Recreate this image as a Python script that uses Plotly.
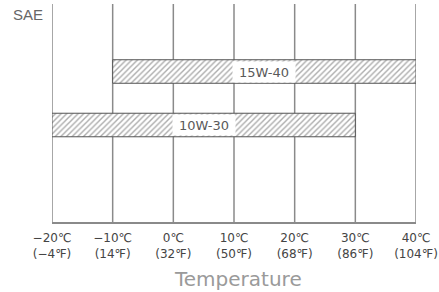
import plotly.graph_objects as go

grades = ["10W-30", "15W-40"]
low_c = [-20, -10]
high_c = [30, 40]
tick_c = [-20, -10, 0, 10, 20, 30, 40]
tick_labels = ["−20℃<br>(−4℉)", "−10℃<br>(14℉)", "0℃<br>(32℉)", "10℃<br>(50℉)",
               "20℃<br>(68℉)", "30℃<br>(86℉)", "40℃<br>(104℉)"]

line_col = "#8a8a8a"
dark = "#555555"

fig = go.Figure()
fig.add_trace(go.Bar(
    y=grades,
    x=[h - l for l, h in zip(low_c, high_c)],
    base=low_c,
    orientation="h",
    width=0.44,
    marker=dict(
        color="white",
        line=dict(color=dark, width=1),
        pattern=dict(shape="/", fgcolor="#5a5a5a", bgcolor="white", size=4, solidity=0.35),
    ),
    showlegend=False,
    hoverinfo="skip",
))

for t in tick_c:
    fig.add_shape(type="line", xref="x", yref="paper", x0=t, x1=t, y0=0, y1=1,
                  line=dict(color=line_col, width=1.5), layer="below")

for g, l, h in zip(grades, low_c, high_c):
    fig.add_annotation(
        x=(l + h) / 2, y=g, xref="x", yref="y", text=g, showarrow=False,
        bgcolor="white", height=20, width=62, borderpad=0,
        font=dict(family="DejaVu Sans", size=13, color="#5a5a5a"),
    )

fig.add_annotation(
    xref="paper", yref="paper", x=-0.066, y=0.95, xanchor="center", yanchor="middle",
    text="SAE", showarrow=False,
    font=dict(family="Liberation Sans", size=15, color="#666666"),
)
fig.add_annotation(
    xref="paper", yref="paper", x=0.51, y=-0.26, xanchor="center", yanchor="middle",
    text="Temperature", showarrow=False,
    font=dict(family="DejaVu Sans", size=20, color="#9a9a9a"),
)

fig.update_layout(
    width=439, height=292,
    margin=dict(l=52, r=23, t=4, b=70, autoexpand=False),
    paper_bgcolor="white", plot_bgcolor="white",
    barmode="overlay",
    xaxis=dict(
        range=[-20, 40], tickvals=tick_c, ticktext=tick_labels,
        showgrid=False, automargin=False, ticklabelstandoff=4,
        zeroline=False, showline=True, linecolor=line_col, linewidth=1.5,
        ticks="", tickfont=dict(family="DejaVu Sans", size=12, color="#444444"),
        fixedrange=True,
    ),
    yaxis=dict(
        type="category", categoryorder="array", categoryarray=grades,
        range=[-1.813, 2.262], showgrid=False, zeroline=False, showline=False,
        showticklabels=False, ticks="", fixedrange=True, automargin=False,
    ),
)

fig.write_html("out.html", config={"displayModeBar": False},
               post_script="document.body.style.margin='0px';document.body.style.padding='0px';")
